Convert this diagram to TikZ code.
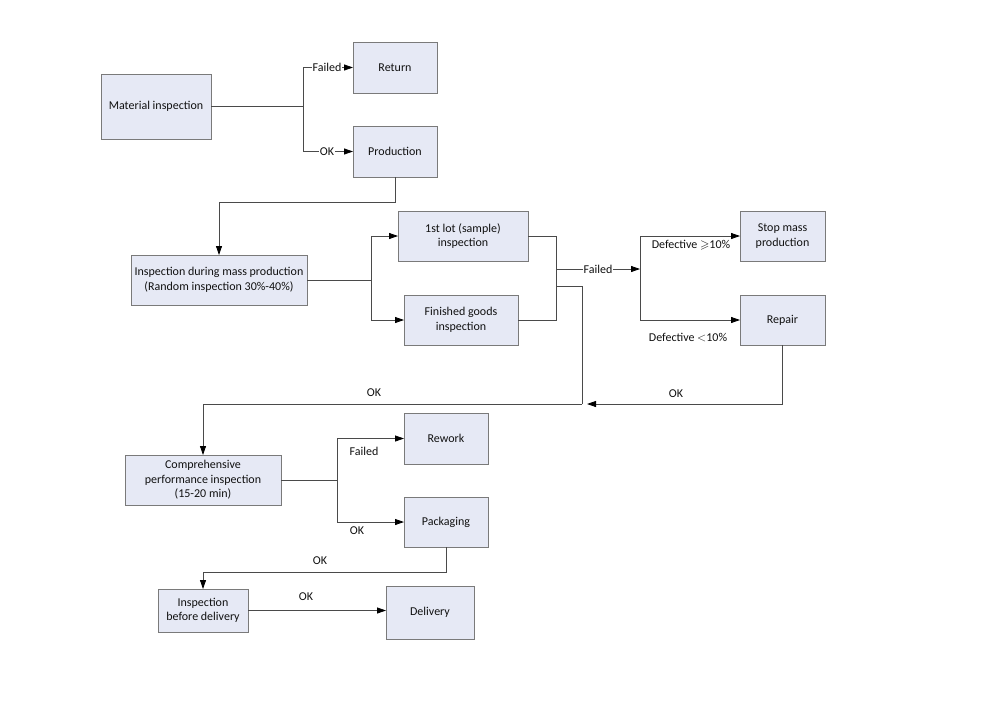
\documentclass[tikz,border=0pt]{standalone}
\usepackage{amssymb}
\usepackage{fontspec}
\setmainfont{Carlito}
\usetikzlibrary{arrows.meta}
\definecolor{boxfill}{HTML}{E6E9F5}
\definecolor{boxline}{HTML}{7A7A7A}
\definecolor{conn}{HTML}{4A4A4A}
\definecolor{txt}{HTML}{111111}
\begin{document}
\begin{tikzpicture}[x=1pt,y=-1pt,
  box/.style={draw=boxline,fill=boxfill,line width=0.9pt,outer sep=0pt,align=center,text=txt,font=\fontsize{12}{14.5}\selectfont,inner sep=1pt},
  conline/.style={draw=conn,line width=0.8pt},
  arr/.style={conline,-{Triangle[length=9pt,width=6pt,color=black]}},
  lbl/.style={text=txt,font=\fontsize{12}{14.5}\selectfont,inner sep=1pt}]
\useasboundingbox (0,0) rectangle (1000,707);
\fill[white] (0,0) rectangle (1000,707);
% boxes
\node[box,minimum width=110,minimum height=65] (mat) at (156,106.5) {Material inspection};
\node[box,minimum width=84,minimum height=51] (ret) at (395,67.5) {Return};
\node[box,minimum width=84,minimum height=51] (prod) at (395,151.5) {Production};
\node[box,minimum width=176,minimum height=50] (mass) at (219,280) {Inspection during mass production\\(Random inspection 30\%-40\%)};
\node[box,minimum width=130,minimum height=50] (lot) at (463,236) {1st lot (sample)\\inspection};
\node[box,minimum width=114,minimum height=50] (fin) at (461,320) {Finished goods\\inspection};
\node[box,minimum width=85,minimum height=50] (stop) at (782.5,236) {Stop mass\\production};
\node[box,minimum width=85,minimum height=50] (rep) at (782.5,320) {Repair};
\node[box,minimum width=156,minimum height=50] (comp) at (203,480) {Comprehensive\\performance inspection\\(15-20 min)};
\node[box,minimum width=84,minimum height=51] (rew) at (446,438.5) {Rework};
\node[box,minimum width=84,minimum height=50] (pack) at (446,522) {Packaging};
\node[box,minimum width=90,minimum height=43] (pre) at (203,610.5) {Inspection\\before delivery};
\node[box,minimum width=88,minimum height=53] (del) at (430,612.5) {Delivery};
% branch points
\coordinate (b1) at (303,106.5);
\coordinate (b2) at (371,280);
\coordinate (b3) at (556,269);
\coordinate (b4) at (640,269);
\coordinate (b6) at (556,286);
\coordinate (b5) at (582,404);
\coordinate (b7) at (337,480);
% connectors
\draw[conline] (mat.east) -- (b1);
\draw[arr] (b1) |- (ret.west);
\draw[arr] (b1) |- (prod.west);
\node[lbl,fill=white] (l1) at (327,67.5) {Failed};
\node[lbl,fill=white] (l2) at (327,151.5) {OK};
\draw[arr] (prod.south) -- ++(0,25) -| (mass.north);
\draw[conline] (mass.east) -- (b2);
\draw[arr] (b2) |- (lot.west);
\draw[arr] (b2) |- (fin.west);
\draw[conline] (lot.east) -| (b3);
\draw[conline] (fin.east) -| (b3);
\draw[arr] (b3) -- (b4);
\node[lbl,fill=white] (l3) at (598,269) {Failed};
\draw[arr] (b4) |- (stop.west);
\draw[arr] (b4) |- (rep.west);
\node[lbl] (l4) at (691,245) {Defective $\geqslant$10\%};
\node[lbl] (l5) at (688,338) {Defective $<$10\%};
\draw[conline] (b6) -| (b5);
\draw[arr] (rep.south) |- ([xshift=5]b5);
\node[lbl] (l6) at (676,394) {OK};
\draw[arr] (b5) -| (comp.north);
\node[lbl] (l7) at (374,393) {OK};
\draw[conline] (comp.east) -- (b7);
\draw[arr] (b7) |- (rew.west);
\draw[arr] (b7) |- (pack.west);
\node[lbl] (l8) at (364,451) {Failed};
\node[lbl] (l9) at (357,531) {OK};
\draw[arr] (pack.south) -- ++(0,25) -| (pre.north);
\node[lbl] (l10) at (320,561) {OK};
\draw[arr] (pre.east) -- (pre.east -| del.west);
\node[lbl] (l11) at (306,597) {OK};
\end{tikzpicture}
\end{document}
